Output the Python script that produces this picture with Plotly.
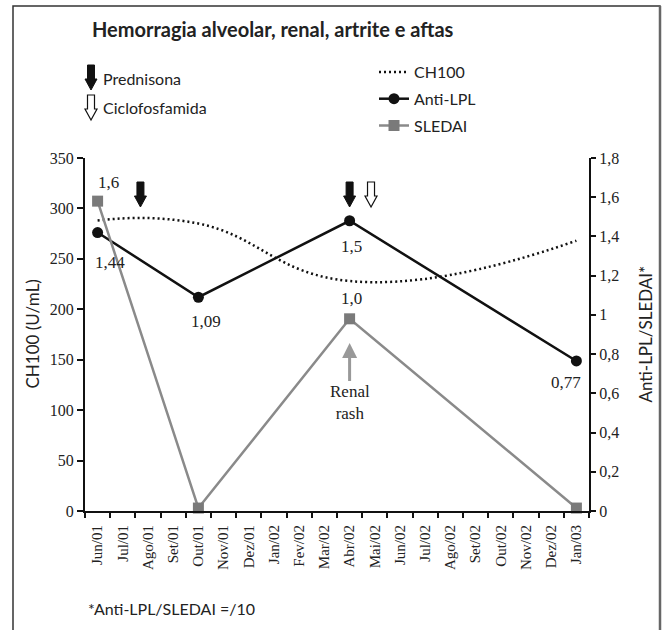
import plotly.graph_objects as go

# ---------------- data ----------------
months = ['Jun/01', 'Jul/01', 'Ago/01', 'Set/01', 'Out/01', 'Nov/01', 'Dez/01',
          'Jan/02', 'Fev/02', 'Mar/02', 'Abr/02', 'Mai/02', 'Jun/02', 'Jul/02',
          'Ago/02', 'Set/02', 'Out/02', 'Nov/02', 'Dez/02', 'Jan/03']

visit_months = ['Jun/01', 'Out/01', 'Abr/02', 'Jan/03']
ch100 = [288, 285, 228, 268]                 # U/mL (left axis)
anti_lpl = [1.42, 1.09, 1.48, 0.765]         # right axis (/10)
anti_lpl_labels = ['1,44', '1,09', '1,5', '0,77']
sledai = [1.58, 0.015, 0.98, 0.015]          # right axis (/10)
sledai_labels = ['1,6', '', '1,0', '']

prednisona_pos = [1.7, 10.0]                 # category index of treatment arrows
ciclofosfamida_pos = [10.85]

left_ticks = list(range(0, 351, 50))
right_range = [0, 1.8]

SERIF = 'Liberation Serif'
SANS = 'Lato'

# plot-area geometry (px)
W, H = 665, 630
ML, MR, MT, MB = 85, 76, 158, 119
PW = W - ML - MR
PH = H - MT - MB


def px_x(px):
    return (px - ML) / PW


def px_y(py):
    return (H - MB - py) / PH


fig = go.Figure()

fig.add_trace(go.Scatter(
    x=visit_months, y=ch100, name='CH100', mode='lines', legendgroup='a',
    line=dict(color='#111111', width=2.5, dash='2px,3px', shape='spline', smoothing=1.3),
    yaxis='y'))

fig.add_trace(go.Scatter(
    x=visit_months, y=anti_lpl, name='Anti-LPL', mode='lines+markers', legendgroup='b',
    line=dict(color='#111111', width=2.5),
    marker=dict(symbol='circle', size=11, color='#111111'),
    cliponaxis=False, yaxis='y2'))

fig.add_trace(go.Scatter(
    x=visit_months, y=sledai, name='SLEDAI', mode='lines+markers', legendgroup='c',
    line=dict(color='#8a8a8a', width=2.5),
    marker=dict(symbol='square', size=11, color='#7a7a7a'),
    cliponaxis=False, yaxis='y2'))

annotations = []

# value labels
lpl_shift = [(12, -30), (8, -24), (2, -26), (-10, -22)]
for m, v, t, (dx, dy) in zip(visit_months, anti_lpl, anti_lpl_labels, lpl_shift):
    annotations.append(dict(x=m, y=v, xref='x', yref='y2', text=t, showarrow=False,
                            xshift=dx, yshift=dy, font=dict(family=SERIF, size=17, color='#222')))
sled_shift = [(11, 19), (0, 0), (2, 20), (0, 0)]
for m, v, t, (dx, dy) in zip(visit_months, sledai, sledai_labels, sled_shift):
    if t:
        annotations.append(dict(x=m, y=v, xref='x', yref='y2', text=t, showarrow=False,
                                xshift=dx, yshift=dy, font=dict(family=SERIF, size=17, color='#222')))

# Renal rash arrow
annotations.append(dict(x='Abr/02', y=0.857, xref='x', yref='y2', text='Renal<br>rash',
                        showarrow=True, ax=0, ay=60, arrowhead=2, arrowsize=1,
                        arrowwidth=3, arrowcolor='#999999',
                        font=dict(family=SERIF, size=17, color='#222')))

# axis titles
annotations.append(dict(x=px_x(32), y=0.5, xref='paper', yref='paper', text='CH100 (U/mL)',
                        textangle=-90, showarrow=False, xanchor='center', yanchor='middle',
                        font=dict(family=SANS, size=17, color='#222')))
annotations.append(dict(x=px_x(645), y=0.5, xref='paper', yref='paper', text='Anti-LPL/SLEDAI*',
                        textangle=-90, showarrow=False, xanchor='center', yanchor='middle',
                        font=dict(family=SANS, size=17, color='#222')))

# arrow legend texts
annotations.append(dict(x=px_x(101), y=px_y(78), xref='paper', yref='paper', text='Prednisona',
                        showarrow=False, xanchor='left', yanchor='middle',
                        font=dict(family=SANS, size=16, color='#222')))
annotations.append(dict(x=px_x(101), y=px_y(108), xref='paper', yref='paper', text='Ciclofosfamida',
                        showarrow=False, xanchor='left', yanchor='middle',
                        font=dict(family=SANS, size=16, color='#222')))

# footnote
annotations.append(dict(x=px_x(86), y=px_y(608), xref='paper', yref='paper', text='*Anti-LPL/SLEDAI =/10',
                        showarrow=False, xanchor='left', yanchor='middle',
                        font=dict(family=SANS, size=16, color='#222')))

ARROW = 'M0,0 L-6,11 L-3.5,11 L-3.5,25 L3.5,25 L3.5,11 L6,11 Z'
shapes = []
for p in prednisona_pos:
    shapes.append(dict(type='path', xref='x', yref='paper', xsizemode='pixel', ysizemode='pixel',
                       xanchor=p, yanchor=px_y(207), path=ARROW,
                       fillcolor='#111111', line=dict(color='#111111', width=1)))
for p in ciclofosfamida_pos:
    shapes.append(dict(type='path', xref='x', yref='paper', xsizemode='pixel', ysizemode='pixel',
                       xanchor=p, yanchor=px_y(207), path=ARROW,
                       fillcolor='white', line=dict(color='#111111', width=1.2)))
# legend arrows
shapes.append(dict(type='path', xref='paper', yref='paper', xsizemode='pixel', ysizemode='pixel',
                   xanchor=px_x(91), yanchor=px_y(90), path=ARROW,
                   fillcolor='#111111', line=dict(color='#111111', width=1)))
shapes.append(dict(type='path', xref='paper', yref='paper', xsizemode='pixel', ysizemode='pixel',
                   xanchor=px_x(91), yanchor=px_y(120), path=ARROW,
                   fillcolor='white', line=dict(color='#111111', width=1.2)))
# frame
shapes.append(dict(type='rect', xref='paper', yref='paper', x0=px_x(13), x1=px_x(660),
                   y0=px_y(660), y1=px_y(6), line=dict(color='#333333', width=1.5), layer='below'))
shapes.append(dict(type='line', xref='paper', yref='paper', x0=px_x(660), x1=px_x(660),
                   y0=px_y(660), y1=px_y(6), line=dict(color='#666666', width=2.5)))

axis_common = dict(showline=True, linewidth=2, linecolor='#111111', ticks='outside',
                   tickwidth=2, tickcolor='#111111', showgrid=False, zeroline=False)

fig.update_layout(
    width=W, height=H,
    margin=dict(l=ML, r=MR, t=MT, b=MB, autoexpand=False),
    paper_bgcolor='white', plot_bgcolor='white',
    separators=',.',
    title=dict(text='<b>Hemorragia alveolar, renal, artrite e aftas</b>', xref='container',
               yref='container', x=92 / W, y=1 - 30 / H, xanchor='left', yanchor='middle',
               font=dict(family=SANS, size=20, color='#222')),
    xaxis=dict(type='category', categoryorder='array', categoryarray=months,
               range=[-0.5, len(months) - 0.5], tickson='boundaries', tickangle=-90,
               ticklen=5, tickfont=dict(family=SERIF, size=15, color='#222'),
               ticklabelstandoff=6, **axis_common),
    yaxis=dict(range=[0, 350], tickvals=left_ticks, ticklen=6,
               tickfont=dict(family=SERIF, size=16, color='#222'), **axis_common),
    yaxis2=dict(range=right_range, dtick=0.2, tick0=0, overlaying='y', side='right', ticklen=5,
                tickfont=dict(family=SERIF, size=16, color='#222'), **axis_common),
    showlegend=True,
    legend=dict(xref='container', yref='container', x=374 / W, y=1 - 55 / H,
                xanchor='left', yanchor='top', bgcolor='rgba(0,0,0,0)',
                font=dict(family=SANS, size=16, color='#222'), tracegroupgap=3,
                itemwidth=30),
    annotations=annotations,
    shapes=shapes,
)

fig.write_html('out.html', config={'displayModeBar': False},
               post_script="document.body.style.margin='0px';")
